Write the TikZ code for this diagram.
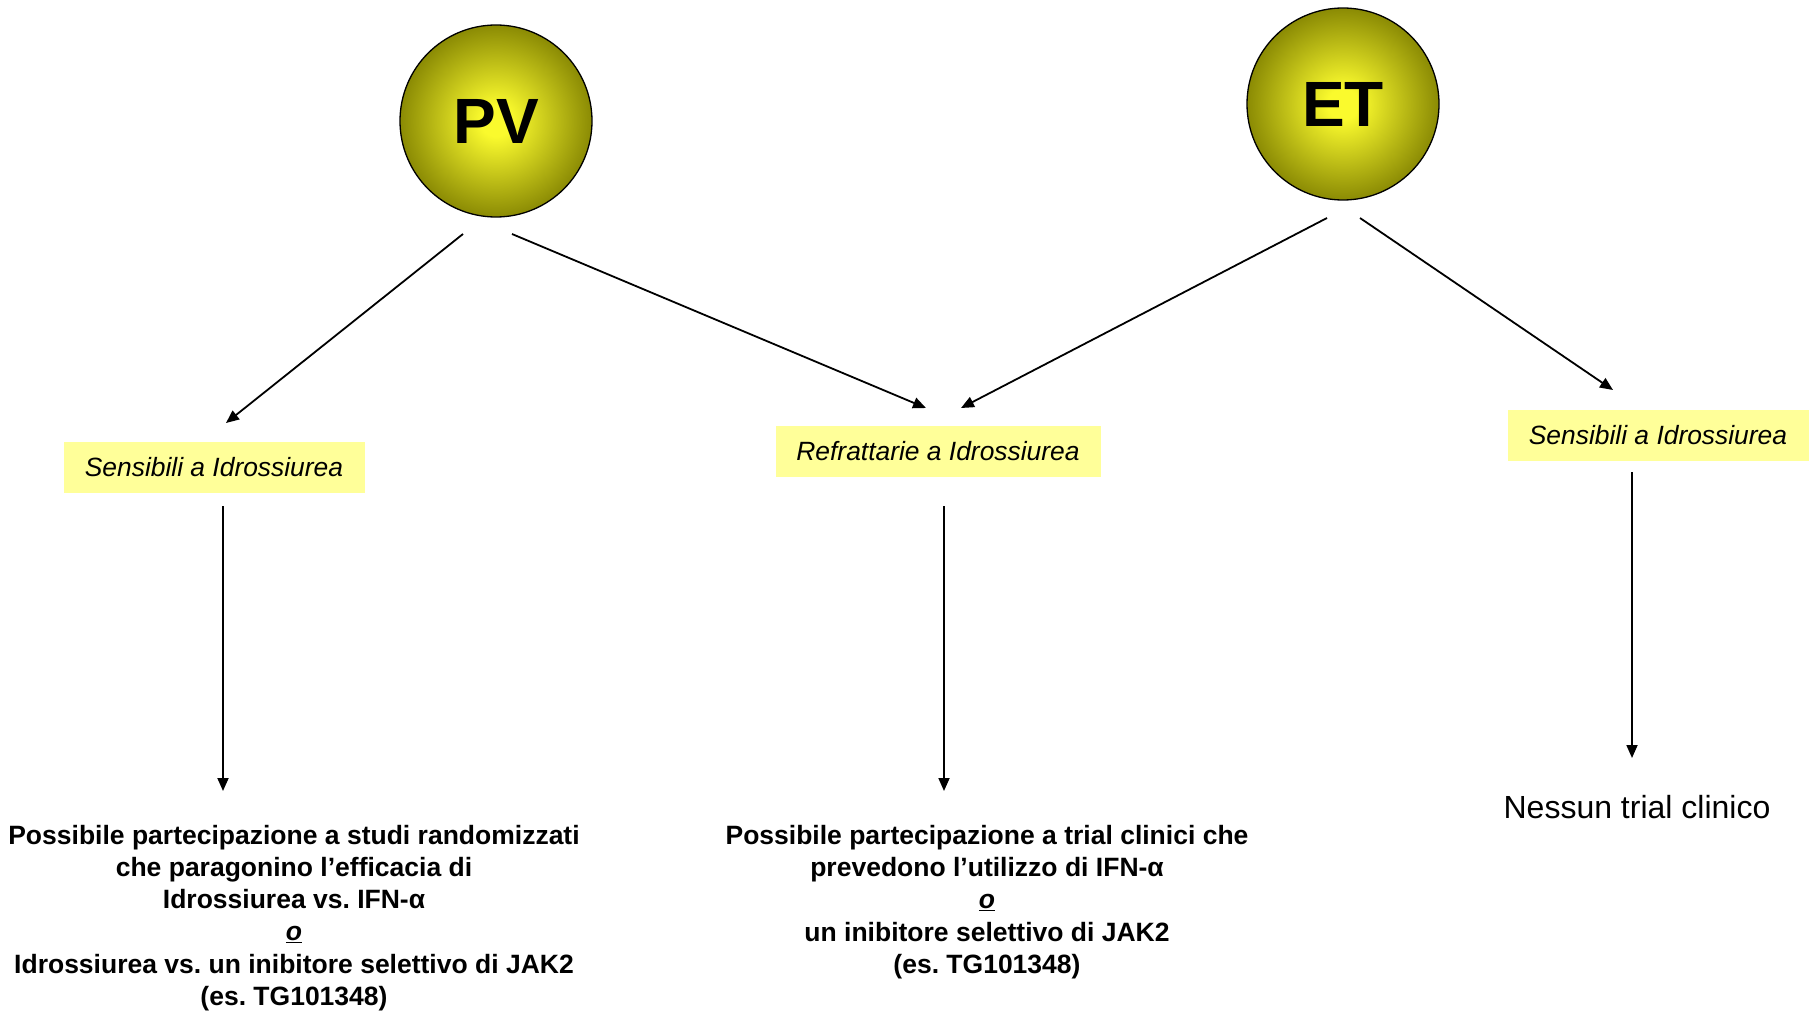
\documentclass[tikz,border=0pt]{standalone}
\usepackage{fontspec}
\setmainfont{Liberation Sans}
\usetikzlibrary{arrows.meta}
\frenchspacing
\definecolor{ballin}{RGB}{250,250,45}
\definecolor{ballout}{RGB}{128,128,0}
\definecolor{labfill}{RGB}{255,255,153}
\pgfdeclareradialshading{ball}{\pgfpoint{0bp}{0bp}}{color(0bp)=(ballin); color(4bp)=(ballin); color(27bp)=(ballout); color(50bp)=(ballout)}
\tikzset{
  ballnode/.style={circle, draw=black, line width=1.3pt, minimum size=192pt, inner sep=0pt, shading=ball, font=\fontsize{64}{70}\selectfont\bfseries},
  labnode/.style={fill=labfill, inner sep=0pt, minimum height=51pt, font=\fontsize{26.4}{30}\selectfont\itshape},
  outnode/.style={align=center, inner sep=0pt, font=\fontsize{26.5}{32.2}\selectfont\bfseries},
  arr/.style={line width=1.8pt, -{Triangle[length=13pt,width=11pt]}},
}
\begin{document}
\begin{tikzpicture}[x=1pt,y=-1pt]
\useasboundingbox (0,0) rectangle (1816,1011);
\node[ballnode] (pv) at (496,121) {PV};
\node[ballnode] (et) at (1343,104) {ET};
\node[labnode, minimum width=301pt] (l1) at (214,467) {Sensibili a Idrossiurea};
\node[labnode, minimum width=325pt] (l2) at (938,451) {Refrattarie a Idrossiurea};
\node[labnode, minimum width=301pt] (l3) at (1658,435) {Sensibili a Idrossiurea};
\node[outnode] (o1) at (294,918) {Possibile partecipazione a studi randomizzati\\che paragonino l’efficacia di\\Idrossiurea vs. IFN-α\\\underline{\textit{o}}\\Idrossiurea vs. un inibitore selettivo di JAK2\\(es. TG101348)};
\node[outnode] (o2) at (987,902) {Possibile partecipazione a trial clinici che\\prevedono l’utilizzo di IFN-α\\\underline{\textit{o}}\\un inibitore selettivo di JAK2\\(es. TG101348)};
\node[font=\fontsize{32}{36}\selectfont, inner sep=0pt] (o3) at (1637,807) {Nessun trial clinico};
% connector endpoints
\coordinate (pv-a) at (463,234);
\coordinate (pv-b) at (512,234);
\coordinate (et-a) at (1327,218);
\coordinate (et-b) at (1360,218);
\coordinate (l1-in) at (226,423);
\coordinate (l2-ina) at (926,408);
\coordinate (l2-inb) at (961,408);
\coordinate (l3-in) at (1613,390);
\coordinate (l1-out) at (223,506);
\coordinate (o1-in) at (223,791);
\coordinate (l2-out) at (944,506);
\coordinate (o2-in) at (944,791);
\coordinate (l3-out) at (1632,472);
\coordinate (o3-in) at (1632,758);
\draw[arr] (pv-a) -- (l1-in);
\draw[arr] (pv-b) -- (l2-ina);
\draw[arr] (et-a) -- (l2-inb);
\draw[arr] (et-b) -- (l3-in);
\draw[arr] (l1-out) -- (o1-in);
\draw[arr] (l2-out) -- (o2-in);
\draw[arr] (l3-out) -- (o3-in);
\end{tikzpicture}
\end{document}
